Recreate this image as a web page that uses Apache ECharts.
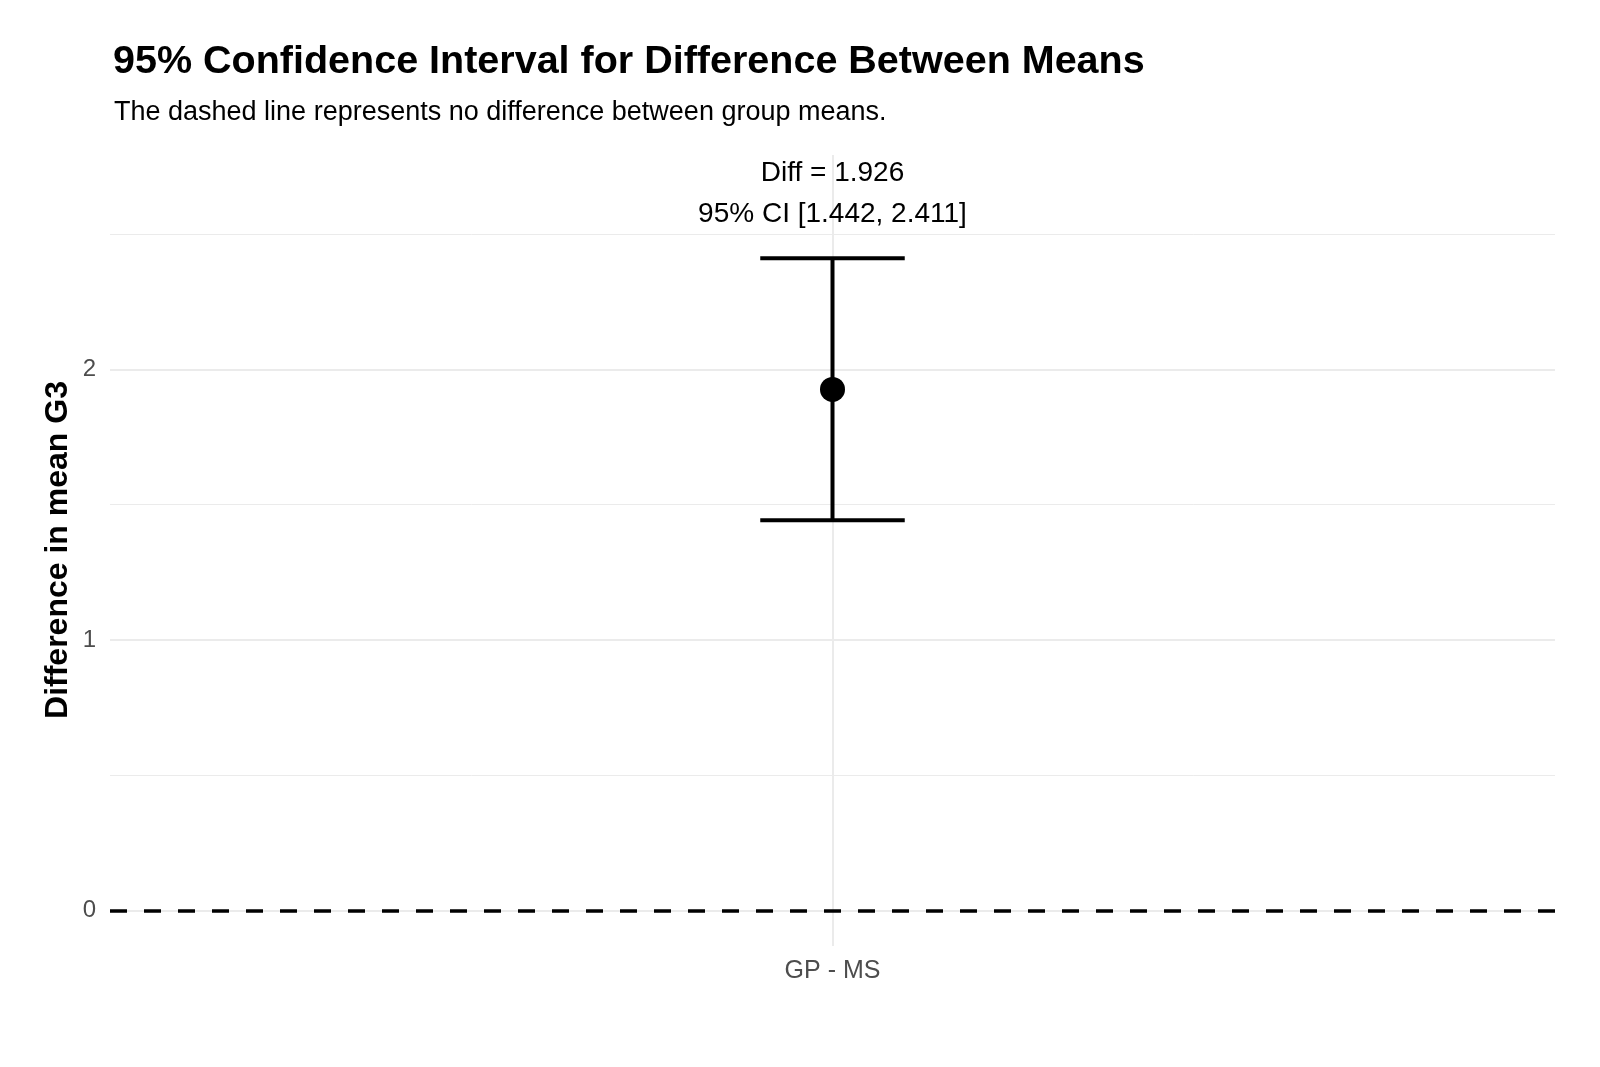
<!DOCTYPE html>
<html>
<head>
<meta charset="utf-8">
<script src="https://cdn.jsdelivr.net/npm/echarts@6/dist/echarts.min.js"></script>
<style>
  html, body { margin: 0; padding: 0; background: #fff; }
  #chart { width: 1600px; height: 1067px; }
</style>
</head>
<body>
<div id="chart"></div>
<script>
// data
const categories = ["GP - MS"];
const diffValues = [1.926];
const ciLower = [1.442];
const ciUpper = [2.411];
const majorTicks = [0, 1, 2];
const minorTicks = [0.5, 1.5, 2.5];
const refValue = 0;
// label sits a bit above the upper CI end
const labelOffset = 0.24;

const FONT = "Liberation Sans, Arial, sans-serif";
const GRID_COLOR = "#ebebeb";

const chart = echarts.init(document.getElementById("chart"));

const errData = categories.map((c, i) => [i, ciLower[i], ciUpper[i]]);
const pointData = categories.map((c, i) => [c, diffValues[i]]);
const labelData = categories.map((c, i) => [i, ciUpper[i] + labelOffset, diffValues[i], ciLower[i], ciUpper[i]]);

const gridLines = [
  ...majorTicks.map((v) => ({ yAxis: v, lineStyle: { width: 2 } })),
  ...minorTicks.map((v) => ({ yAxis: v, lineStyle: { width: 1 } })),
  ...categories.map((c) => ({ xAxis: c, lineStyle: { width: 2 } })),
];

chart.setOption({
  animation: false,
  backgroundColor: "#ffffff",
  title: [
    {
      text: "95% Confidence Interval for Difference Between Means",
      left: 108,
      top: 37,
      textStyle: { fontFamily: FONT, fontSize: 39.5, fontWeight: "bold", color: "#000" },
    },
    {
      text: "The dashed line represents no difference between group means.",
      left: 109,
      top: 94,
      textStyle: { fontFamily: FONT, fontSize: 27, fontWeight: "normal", color: "#000" },
    },
  ],
  // y axis title (placed by hand, the axis name gets pushed by the labels)
  graphic: [
    {
      type: "text",
      x: 58,
      y: 550,
      rotation: Math.PI / 2,
      style: {
        text: "Difference in mean G3",
        fontFamily: FONT,
        fontSize: 32,
        fontWeight: "bold",
        fill: "#000",
        align: "center",
        verticalAlign: "middle",
      },
    },
  ],
  grid: { left: 110, right: 45, top: 155, bottom: 121 },
  xAxis: {
    type: "category",
    data: categories,
    boundaryGap: true,
    axisLine: { show: false },
    axisTick: { show: false },
    splitLine: { show: false },
    axisLabel: { fontFamily: FONT, fontSize: 25, color: "#4d4d4d", margin: 13 },
  },
  yAxis: {
    type: "value",
    min: -0.132,
    max: 2.793,
    axisLine: { show: false },
    axisTick: { show: false },
    splitLine: { show: false },
    axisLabel: {
      fontFamily: FONT,
      fontSize: 24,
      color: "#4d4d4d",
      margin: 14,
      formatter: (v) => (majorTicks.includes(v) ? String(v) : ""),
    },
  },
  series: [
    {
      name: "grid",
      type: "scatter",
      data: [],
      silent: true,
      z: 1,
      markLine: {
        silent: true,
        z: 1,
        symbol: ["none", "none"],
        label: { show: false },
        lineStyle: { color: GRID_COLOR, type: "solid" },
        data: gridLines,
      },
    },
    {
      name: "reference",
      type: "scatter",
      data: [],
      silent: true,
      z: 2,
      markLine: {
        silent: true,
        z: 2,
        symbol: ["none", "none"],
        label: { show: false },
        lineStyle: { color: "#000", type: [17, 17], width: 3.5 },
        data: [{ yAxis: refValue }],
      },
    },
    {
      name: "ci",
      type: "custom",
      z: 3,
      data: errData,
      renderItem: function (params, api) {
        const x = api.value(0);
        const lo = api.coord([x, api.value(1)]);
        const hi = api.coord([x, api.value(2)]);
        const half = api.size([1, 0])[0] * 0.05;
        const style = { stroke: "#000", lineWidth: 4, fill: null };
        return {
          type: "group",
          children: [
            { type: "line", shape: { x1: hi[0], y1: hi[1], x2: lo[0], y2: lo[1] }, style },
            { type: "line", shape: { x1: hi[0] - half, y1: hi[1], x2: hi[0] + half, y2: hi[1] }, style },
            { type: "line", shape: { x1: lo[0] - half, y1: lo[1], x2: lo[0] + half, y2: lo[1] }, style },
          ],
        };
      },
    },
    {
      name: "diff",
      type: "scatter",
      z: 4,
      data: pointData,
      symbol: "circle",
      symbolSize: 25,
      itemStyle: { color: "#000", opacity: 1 },
    },
    {
      name: "annotation",
      type: "custom",
      z: 5,
      data: labelData,
      renderItem: function (params, api) {
        const p = api.coord([api.value(0), api.value(1)]);
        const txt =
          "Diff = " + api.value(2).toFixed(3) + "\n95% CI [" +
          api.value(3).toFixed(3) + ", " + api.value(4).toFixed(3) + "]";
        return {
          type: "text",
          x: p[0],
          y: p[1],
          style: {
            text: txt,
            fontFamily: FONT,
            fontSize: 28,
            lineHeight: 41,
            fill: "#000",
            align: "center",
            verticalAlign: "middle",
          },
        };
      },
    },
  ],
});

window.addEventListener("resize", function () {
  chart.resize();
});
</script>
</body>
</html>
